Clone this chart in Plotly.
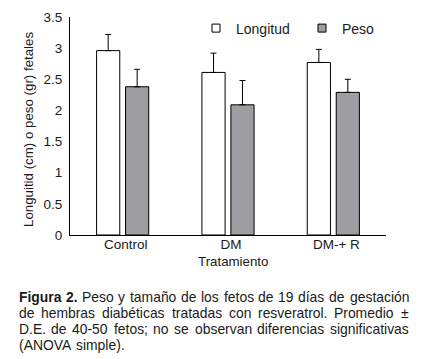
import plotly.graph_objects as go

categories = ["Control", "DM", "DM-+ R"]
longitud = [2.96, 2.61, 2.77]
longitud_err = [0.26, 0.31, 0.21]
peso = [2.38, 2.09, 2.29]
peso_err = [0.28, 0.39, 0.21]
y_ticks = [0, 0.5, 1, 1.5, 2, 2.5, 3, 3.5]
y_ticklabels = ["0", "0.5", "1", "1.5", "2", "2.5", "3", "3.5"]

caption_lines = [
    "Figura 2. Peso y tamaño de los fetos de 19 días de gestación",
    "de hembras diabéticas tratadas con resveratrol. Promedio ±",
    "D.E. de 40-50 fetos; no se observan diferencias significativas",
    "(ANOVA simple).",
]
caption_bold_words = 2  # "Figura 2."

FONT = "Liberation Sans, Arial, sans-serif"
TXT = "#1a1a1a"

# The page body has an 8px margin: the figure is drawn 8px in from the window edge.
OFF = 8
W, H = 424 - OFF, 359 - OFF
# plot-area geometry in window px
PL, PR, PT, PB = 70, 386, 17, 235
L, T = PL - OFF, PT - OFF
R, B = W - (PR - OFF), H - (PB - OFF)
PW, PH = PR - PL, PB - PT

def px_x(p):  # window px -> paper
    return (p - PL) / PW

def px_y(p):
    return (PB - p) / PH

# Arial / Liberation Sans advance widths (1/1000 em)
REG = {' ': 278, '(': 333, ')': 333, '+': 584, '-': 333, '.': 278, ';': 278, '±': 584,
       'A': 667, 'D': 722, 'E': 667, 'F': 611, 'N': 722, 'O': 778, 'P': 667, 'V': 667,
       'a': 556, 'b': 556, 'c': 500, 'd': 556, 'e': 556, 'f': 278, 'g': 556, 'h': 556,
       'i': 222, 'l': 222, 'm': 833, 'n': 556, 'o': 556, 'p': 556, 'r': 333, 's': 500,
       't': 278, 'u': 556, 'v': 500, 'y': 500, 'á': 556, 'é': 556, 'í': 278, 'ñ': 556,
       'ó': 556}
BOLD = {'F': 611, 'i': 278, 'g': 611, 'u': 611, 'r': 389, 'a': 556, '2': 556, '.': 278}

def word_w(w, size, bold=False):
    tab = BOLD if bold else REG
    return sum(tab.get(c, 556) for c in w) * size / 1000.0

fig = go.Figure()
fig.add_trace(go.Bar(
    x=categories, y=longitud, name="Longitud", showlegend=False,
    marker=dict(color="white", line=dict(color="black", width=1)),
    error_y=dict(type="data", array=longitud_err, arrayminus=[0, 0, 0],
                 symmetric=False, color="black", thickness=1, width=3),
))
fig.add_trace(go.Bar(
    x=categories, y=peso, name="Peso", showlegend=False,
    marker=dict(color="#9e9da2", line=dict(color="black", width=1)),
    error_y=dict(type="data", array=peso_err, arrayminus=[0, 0, 0],
                 symmetric=False, color="black", thickness=1, width=3),
))
# legend entries (small squares as in the reference)
fig.add_trace(go.Scatter(x=[None], y=[None], mode="markers", name="Longitud",
                         marker=dict(symbol="square", size=8, color="white",
                                     line=dict(color="black", width=1))))
fig.add_trace(go.Scatter(x=[None], y=[None], mode="markers", name="Peso",
                         marker=dict(symbol="square", size=8, color="#9e9da2",
                                     line=dict(color="black", width=1))))

fig.update_layout(
    width=W, height=H,
    margin=dict(l=L, r=R, t=T, b=B, autoexpand=False),
    paper_bgcolor="white", plot_bgcolor="white",
    barmode="group", bargap=0.45, bargroupgap=0.2,
    font=dict(family=FONT, size=13.5, color=TXT),
    showlegend=True,
    legend=dict(orientation="h", x=px_x(196), y=px_y(28.5), xanchor="left",
                yanchor="middle", font=dict(size=14, color=TXT),
                bgcolor="rgba(0,0,0,0)", borderwidth=0,
                entrywidth=61, entrywidthmode="pixels", traceorder="normal"),
    xaxis=dict(showline=True, linecolor="black", linewidth=1, ticks="",
               tickfont=dict(size=13.5, color=TXT), automargin=False,
               ticklabelstandoff=-3, ticklabelshift=3),
    yaxis=dict(range=[0, 3.5], tickvals=y_ticks, ticktext=y_ticklabels,
               showline=True, linecolor="black", linewidth=1,
               ticks="outside", ticklen=4, tickcolor="rgba(0,0,0,0)",
               showgrid=False, zeroline=False,
               tickfont=dict(size=13.5, color=TXT), automargin=False),
)

# axis titles
fig.add_annotation(text="Longuitid (cm) o peso (gr) fetales", textangle=-90,
                   xref="paper", yref="paper", x=px_x(28), y=px_y(130),
                   xanchor="center", yanchor="middle", showarrow=False,
                   font=dict(size=13.3, color=TXT))
fig.add_annotation(text="Tratamiento", xref="paper", yref="paper",
                   x=px_x(233), y=px_y(261.5), xanchor="center", yanchor="middle",
                   showarrow=False, font=dict(size=13.3, color=TXT))

# justified caption, placed word by word
CAP_SIZE = 13.9
left, right = 17.7, 408
line_y = [296.7, 312.8, 329.0, 345.2]
for li, (txt, yy) in enumerate(zip(caption_lines, line_y)):
    words = txt.split(" ")
    bolds = [li == 0 and wi < caption_bold_words for wi in range(len(words))]
    widths = [word_w(w, CAP_SIZE, b) for w, b in zip(words, bolds)]
    last = li == len(caption_lines) - 1
    if last or len(words) == 1:
        gap = word_w(" ", CAP_SIZE)
    else:
        gap = (right - left - sum(widths)) / (len(words) - 1)
    xpos = left
    for w, b, ww in zip(words, bolds, widths):
        fig.add_annotation(
            text=f"<b>{w}</b>" if b else w, xref="paper", yref="paper",
            x=px_x(xpos), y=px_y(yy), xanchor="left", yanchor="middle",
            showarrow=False, font=dict(family=FONT, size=CAP_SIZE, color=TXT),
            borderpad=0,
        )
        xpos += ww + gap

fig.write_html("out.html")
